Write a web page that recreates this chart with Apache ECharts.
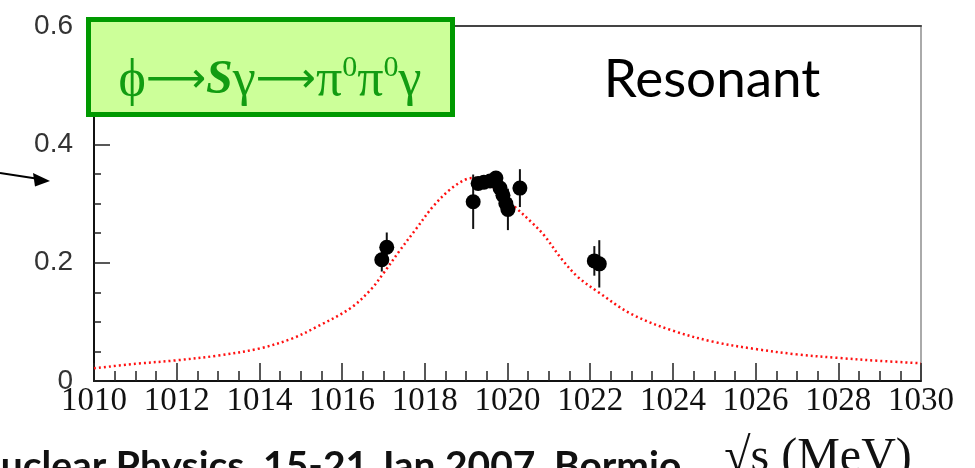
<!DOCTYPE html>
<html>
<head>
<meta charset="utf-8">
<script src="https://cdn.jsdelivr.net/npm/echarts@6/dist/echarts.min.js"></script>
<style>
  html, body { margin: 0; padding: 0; background: #ffffff; }
  #chart { width: 975px; height: 468px; }
</style>
</head>
<body>
<div id="chart"></div>
<script>
// Fitted resonant line shape (sqrt(s) in MeV, arbitrary units)
const curveX = [1010.0, 1011.0, 1012.0, 1013.0, 1014.0, 1014.8, 1015.4, 1016.2, 1016.7, 1017.0,
                1017.4, 1017.8, 1018.2, 1018.6, 1019.0, 1019.2, 1019.5, 1019.8, 1020.2, 1020.6,
                1020.9, 1021.3, 1021.7, 1022.2, 1023.0, 1024.0, 1025.0, 1026.0, 1027.0, 1028.0,
                1029.0, 1030.0];
const curveY = [0.0215, 0.029, 0.035, 0.043, 0.055, 0.072, 0.092, 0.123, 0.155, 0.182,
                0.221, 0.258, 0.295, 0.323, 0.341, 0.343, 0.336, 0.318, 0.293, 0.267,
                0.245, 0.207, 0.176, 0.150, 0.113, 0.085, 0.066, 0.054, 0.045, 0.039,
                0.034, 0.030];

// Measured points with symmetric errors
const ptX   = [1016.96, 1017.08, 1019.17, 1019.29, 1019.43, 1019.58, 1019.72, 1019.82, 1019.89, 1019.96, 1020.01, 1020.30, 1022.10, 1022.22];
const ptY   = [0.205, 0.226, 0.303, 0.334, 0.336, 0.338, 0.343, 0.326, 0.314, 0.300, 0.290, 0.326, 0.203, 0.198];
const ptErr = [0.020, 0.025, 0.046, 0.010, 0.010, 0.010, 0.010, 0.012, 0.012, 0.015, 0.035, 0.032, 0.025, 0.040];

const xMin = 1010, xMax = 1030, xStep = 2;
const yMin = 0, yMax = 0.6, yStep = 0.2;

const curveData = curveX.map((x, i) => [x, curveY[i]]);
const pointData = ptX.map((x, i) => [x, ptY[i]]);
const errData = ptX.map((x, i) => [x, ptY[i] - ptErr[i], ptY[i] + ptErr[i]]);

const tickStyle = { color: '#222', width: 1.5 };
const green = '#129c12';

const chart = echarts.init(document.getElementById('chart'), null, { renderer: 'canvas' });

chart.setOption({
  animation: false,
  backgroundColor: '#ffffff',
  grid: { left: 94, right: 54, top: 26, bottom: 87, containLabel: false },
  xAxis: [
    {
      type: 'value', min: xMin, max: xMax, interval: xStep,
      axisLine: { onZero: false, lineStyle: { color: '#111', width: 2 } },
      axisTick: { inside: true, length: 18, lineStyle: tickStyle },
      minorTick: { show: true, splitNumber: 4, length: 10, lineStyle: tickStyle },
      splitLine: { show: false },
      axisLabel: {
        fontFamily: 'Liberation Serif', fontSize: 33, color: '#111', margin: 4,
        formatter: v => String(v)
      }
    },
    {
      type: 'value', position: 'top', min: xMin, max: xMax,
      axisLine: { onZero: false, lineStyle: { color: '#444', width: 2 } },
      axisTick: { show: false }, axisLabel: { show: false }, splitLine: { show: false }
    }
  ],
  yAxis: [
    {
      type: 'value', min: yMin, max: yMax, interval: yStep,
      axisLine: { onZero: false, lineStyle: { color: '#111', width: 2 } },
      axisTick: { inside: true, length: 16, lineStyle: tickStyle },
      minorTick: { show: true, splitNumber: 4, length: 7, lineStyle: tickStyle },
      splitLine: { show: false },
      axisLabel: {
        fontFamily: 'Liberation Sans', fontSize: 28, color: '#333', margin: 21,
        formatter: v => (v === 0 ? '0' : v.toFixed(1))
      }
    },
    {
      type: 'value', position: 'right', min: yMin, max: yMax,
      axisLine: { onZero: false, lineStyle: { color: '#aaa', width: 2 } },
      axisTick: { show: false }, axisLabel: { show: false }, splitLine: { show: false }
    }
  ],
  series: [
    {
      type: 'line', data: curveData, smooth: 0.35, showSymbol: false, z: 2,
      lineStyle: { color: '#ff1010', width: 2.5, type: [2, 3] }
    },
    {
      type: 'custom', data: errData, z: 3,
      renderItem: (params, api) => {
        const lo = api.coord([api.value(0), api.value(1)]);
        const hi = api.coord([api.value(0), api.value(2)]);
        return {
          type: 'line',
          shape: { x1: lo[0], y1: lo[1], x2: hi[0], y2: hi[1] },
          style: { stroke: '#111', lineWidth: 2 }
        };
      }
    },
    {
      type: 'scatter', data: pointData, symbol: 'circle', symbolSize: 15, z: 4,
      itemStyle: { color: '#000', opacity: 1 }
    }
  ],
  graphic: [
    // pointer arrow on the left edge
    { type: 'line', z: 10, shape: { x1: 0, y1: 173, x2: 36, y2: 178.6 }, style: { stroke: '#000', lineWidth: 2 } },
    { type: 'polygon', z: 10, shape: { points: [[50, 181], [33, 173], [35, 186.5]] }, style: { fill: '#000' } },
    // process label box
    {
      type: 'rect', z: 20,
      shape: { x: 88.5, y: 19.5, width: 364, height: 95 },
      style: { fill: '#ccff99', stroke: '#009900', lineWidth: 5 }
    },
    {
      type: 'text', z: 21, x: 270, y: 81,
      style: {
        text: '{n|ϕ}{a|⟶}{b|S}{n|γ}{a|⟶}{n|π}{s|0}{n|π}{s|0}{n|γ}',
        align: 'center', verticalAlign: 'middle',
        rich: {
          n: { fontFamily: 'Liberation Serif', fontSize: 52, fill: green, lineHeight: 56 },
          a: { fontFamily: 'DejaVu Sans', fontSize: 42, fill: green, lineHeight: 56 },
          b: { fontFamily: 'Liberation Serif', fontSize: 48, fontWeight: 'bold', fontStyle: 'italic', fill: green, lineHeight: 56 },
          s: { fontFamily: 'Liberation Serif', fontSize: 30, fill: green, lineHeight: 56, verticalAlign: 'top' }
        }
      }
    },
    {
      type: 'text', z: 21, x: 712, y: 80,
      style: { text: 'Resonant', font: '53px Lato', fill: '#000', align: 'center', verticalAlign: 'middle' }
    },
    {
      type: 'text', z: 21, x: 818, y: 458,
      style: { text: '√s (MeV)', font: '48px "Liberation Serif"', fill: '#111', align: 'center', verticalAlign: 'middle' }
    },
    {
      type: 'text', z: 21, x: -29, y: 447,
      style: { text: 'Nuclear Physics, 15-21 Jan 2007, Bormio', font: 'bold 39px Lato', fill: '#111', align: 'left', verticalAlign: 'top' }
    }
  ]
});
</script>
</body>
</html>
